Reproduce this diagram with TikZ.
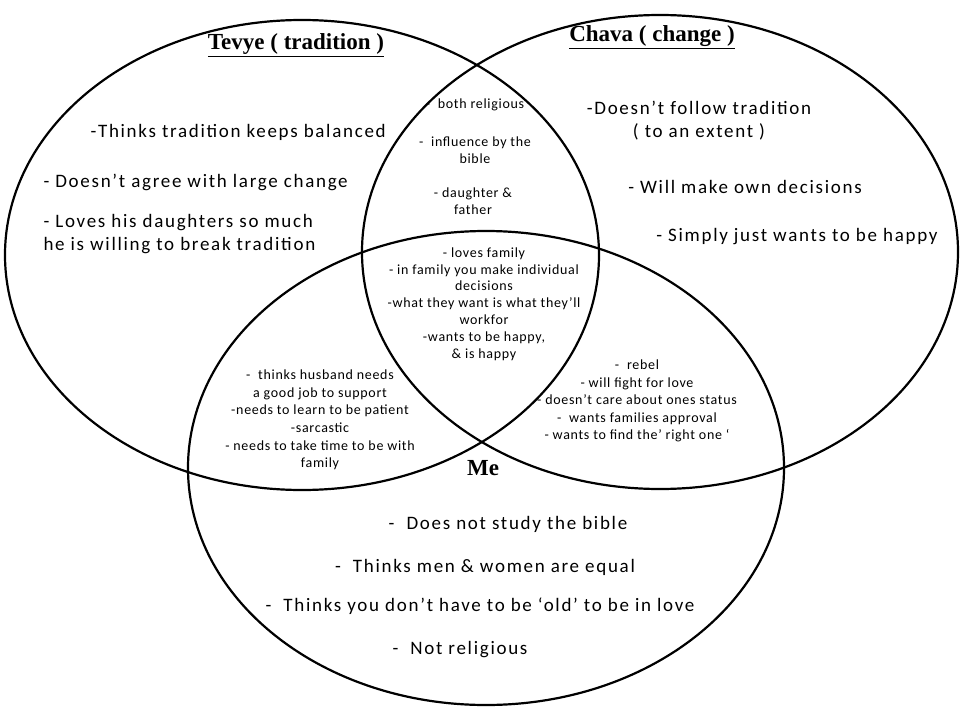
\documentclass[tikz,border=0pt]{standalone}
\usepackage{fontspec}
\setmainfont{Carlito}
\newfontfamily\bigfont[LetterSpace=9]{Carlito}
\newfontfamily\smfont[LetterSpace=5]{Carlito}
\newfontfamily\titlefont{Liberation Serif}
\begin{document}
\begin{tikzpicture}[x=1pt,y=-1pt,
  ell/.style={draw=black,line width=2.2pt},
  big/.style={font=\bigfont\fontsize{19}{23}\selectfont,align=center},
  sm/.style={font=\smfont\fontsize{14}{17}\selectfont,align=center},
  ttl/.style={font=\titlefont\bfseries\fontsize{23}{27}\selectfont}]
\path[fill=white] (0,0) rectangle (962,720);
\useasboundingbox (0,0) rectangle (962,720);
\draw[ell] (302,255) ellipse [x radius=297,y radius=235];
\draw[ell] (660,252) ellipse [x radius=298,y radius=237];
\draw[ell] (486,468) ellipse [x radius=298,y radius=237];
\node[ttl] (t1) at (296,45) {\underline{Tevye ( tradition )}};
\node[ttl] (t2) at (652,37) {\underline{Chava ( change )}};
\node[ttl] (t3) at (483,468) {Me};
\node[big,anchor=west] (a1) at (87,132) {-Thinks tradition keeps balanced};
\node[big,anchor=west] (a2) at (40,182) {- Doesn’t agree with large change};
\node[big,anchor=west,align=left] (a3) at (40,234) {- Loves his daughters so much\\he is willing to break tradition};
\node[sm] (b1) at (475,105) {-\ \ both religious};
\node[sm] (b2) at (475,150) {-\ \ influence by the\\bible};
\node[sm] (b3) at (473,201) {- daughter \&\\father};
\node[big] (c1) at (699,121) {-Doesn’t follow tradition\\( to an extent )};
\node[big] (c2) at (745,187) {- Will make own decisions};
\node[big] (c3) at (797,237) {- Simply just wants to be happy};
\node[sm,font=\smfont\fontsize{14}{16.8}\selectfont] (d) at (484,304) {- loves family\\- in family you make individual\\decisions\\-what they want is what they’ll\\workfor\\-wants to be happy,\\\& is happy};
\node[sm,font=\smfont\fontsize{14}{17.6}\selectfont] (e) at (320,420) {-\ \ thinks husband needs\\a good job to support\\-needs to learn to be patient\\-sarcastic\\- needs to take time to be with\\family};
\node[sm,font=\smfont\fontsize{14}{17.6}\selectfont] (f) at (637,401) {-\ \ rebel\\- will fight for love\\- doesn’t care about ones status\\-\ \ wants families approval\\- wants to find the’ right one ‘};
\node[big] (g1) at (508,524) {-\ \ Does not study the bible};
\node[big] (g2) at (485,567) {-\ \ Thinks men \& women are equal};
\node[big] (g3) at (480,606) {-\ \ Thinks you don’t have to be ‘old’ to be in love};
\node[big] (g4) at (460,650) {-\ \ Not religious};
\end{tikzpicture}
\end{document}
